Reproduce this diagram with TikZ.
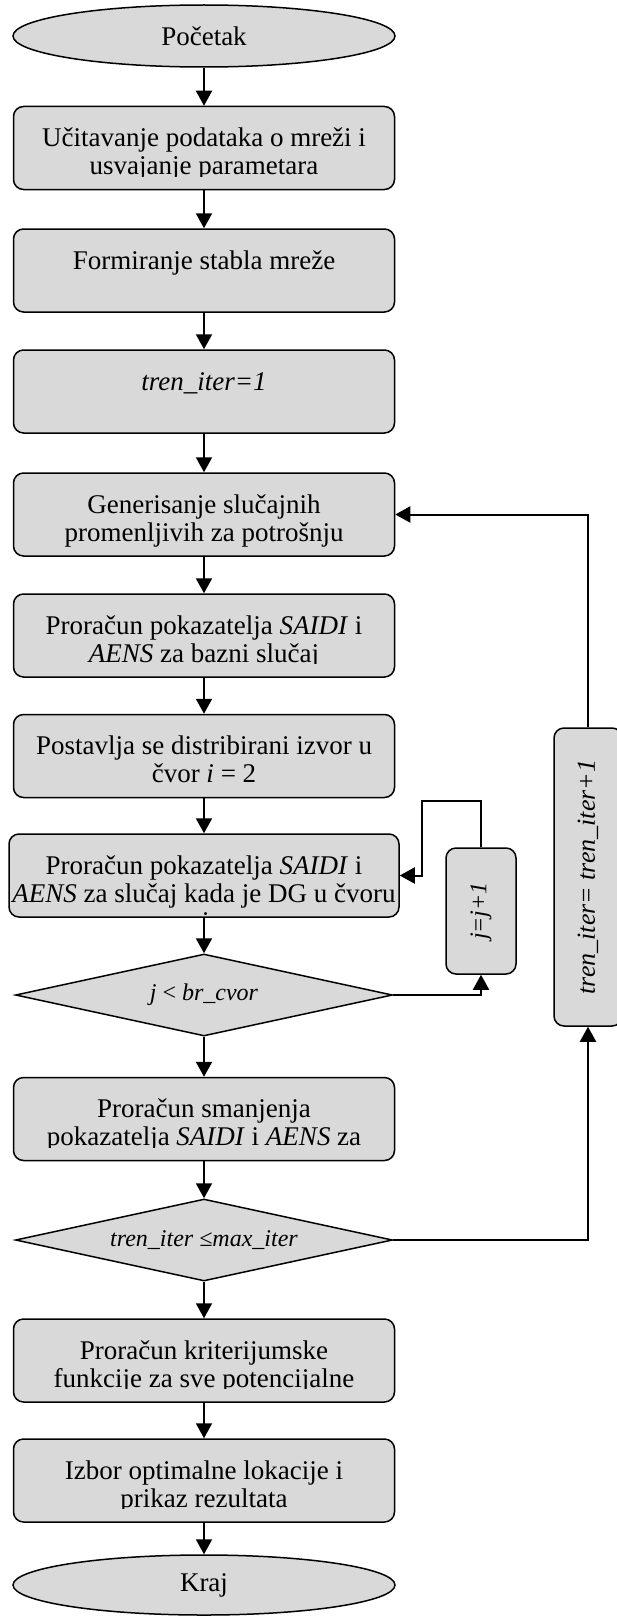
\documentclass[tikz,border=0pt]{standalone}
\usepackage{fontspec}
\setmainfont{Liberation Serif}
\usetikzlibrary{arrows.meta, shapes.geometric}

\tikzset{
  base/.style={draw, fill=black!15, line width=0.75pt, inner sep=0pt},
  proc/.style={base, rectangle, rounded corners=5pt, minimum width=190.5pt, minimum height=41.5pt},
  term/.style={base, ellipse, minimum width=191pt, minimum height=31pt, font=\fontsize{13.5}{14}\selectfont},
  test/.style={base, diamond, aspect=4.6, minimum width=188.5pt, minimum height=41pt, font=\fontsize{12}{12}\selectfont},
  txt/.style={anchor=base, inner sep=0pt, font=\fontsize{13.5}{14}\selectfont},
  arr/.style={line width=1pt, -{Triangle[length=7.5pt,width=8pt]}}
}

% text of a box, cut off #2 above its lower edge
\newcommand{\boxtxt}[3]{%
  \begin{scope}
    \clip ([yshift=#2]#1.south west) rectangle (#1.north east);
    \node[txt] (#1-t) at ([yshift=-20.5pt]#1.north) {\parbox[t]{200pt}{\centering #3}};
  \end{scope}}

\begin{document}
\begin{tikzpicture}[x=0.5pt, y=-0.5pt]
\useasboundingbox (0,0) rectangle (616,1616);

\node[term] (start) at (204,36) {Početak};

\node[proc] (b1) at (204,148) {};
\boxtxt{b1}{7pt}{Učitavanje podataka o mreži i\\usvajanje parametara}
\node[proc] (b2) at (204,270.5) {};
\boxtxt{b2}{1pt}{Formiranje stabla mreže}
\node[proc] (b3) at (204,391.5) {};
\boxtxt{b3}{1pt}{\textit{tren\_iter=1}}
\node[proc] (b4) at (204,514.5) {};
\boxtxt{b4}{1pt}{Generisanje slučajnih\\promenljivih za potrošnju}
\node[proc] (b5) at (204,635.5) {};
\boxtxt{b5}{7pt}{Proračun pokazatelja \textit{SAIDI} i\\\textit{AENS} za bazni slučaj}
\node[proc] (b6) at (204,756) {};
\boxtxt{b6}{1pt}{Postavlja se distribirani izvor u\\čvor \textit{i} = 2}
\node[proc, minimum width=195pt] (b7) at (204,875.5) {};
\boxtxt{b7}{1pt}{Proračun pokazatelja \textit{SAIDI} i\\\textit{AENS} za slučaj kada je DG u čvoru\\\textit{i}}

\node[test] (d1) at (204,995) {\textit{j} < \textit{br\_cvor}};

\node[proc] (b8) at (204,1119) {};
\boxtxt{b8}{7pt}{Proračun smanjenja\\pokazatelja \textit{SAIDI} i \textit{AENS} za}

\node[test] (d2) at (204,1240) {\textit{tren\_iter ≤max\_iter}};

\node[proc] (b9) at (204,1360.5) {};
\boxtxt{b9}{7pt}{Proračun kriterijumske\\funkcije za sve potencijalne}
\node[proc] (b10) at (204,1480.5) {};
\boxtxt{b10}{7pt}{Izbor optimalne lokacije i\\prikaz rezultata}

\node[term, minimum height=30pt] (end) at (204,1585) {Kraj};

% loops on the right
\node[proc, minimum width=35pt, minimum height=63pt, font=\fontsize{12}{12}\selectfont] (jbox) at (481,911) {\rotatebox{90}{\textit{j=j+1}}};
\node[proc, minimum width=34pt, minimum height=149pt, font=\fontsize{13}{13}\selectfont] (tbox) at (588,877) {\rotatebox{90}{\textit{tren\_iter= tren\_iter+1}}};
\coordinate (jtop) at (422,801);

% main flow
\foreach \a/\b in {start/b1, b1/b2, b2/b3, b3/b4, b4/b5, b5/b6, b6/b7, b7/d1, d1/b8, b8/d2, d2/b9, b9/b10, b10/end}
  \draw[arr] (\a.south) -- (\b.north);

\draw[arr] (d1.east) -| (jbox.south);
\draw[arr] (jbox.north) |- (jtop) |- (b7.east);
\draw[arr] (d2.east) -| (tbox.south);
\draw[arr] (tbox.north) |- (b4.east);
\end{tikzpicture}
\end{document}
